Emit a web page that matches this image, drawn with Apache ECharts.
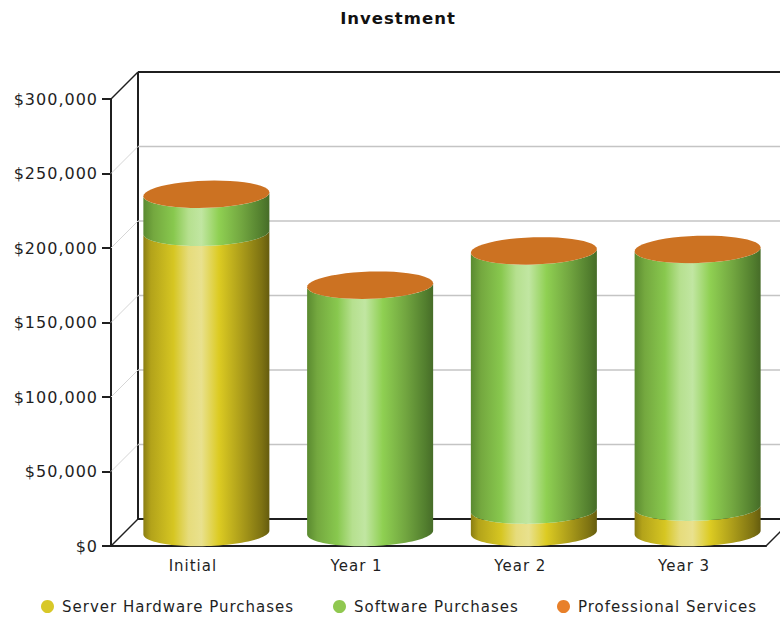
<!DOCTYPE html>
<html>
<head>
<meta charset="utf-8">
<title>Investment</title>
<style>
  html, body { margin: 0; padding: 0; background: #fff; }
  #chart { width: 780px; height: 617px; }
  #chart text { letter-spacing: 1px; }
</style>
<script src="https://cdn.jsdelivr.net/npm/echarts@6/dist/echarts.min.js"></script>
</head>
<body>
<div id="chart"></div>
<script>
const categories = ['Initial', 'Year 1', 'Year 2', 'Year 3'];
const seriesNames = ['Server Hardware Purchases', 'Software Purchases', 'Professional Services'];
const serverHardware = [201500, 0, 15000, 17000];
const software = [25500, 166000, 174000, 173000];
const professionalServices = [0, 0, 0, 0];
const yTicks = [0, 50000, 100000, 150000, 200000, 250000, 300000];

const stacks = [serverHardware, software, professionalServices];

// Shared look of the pseudo-3D box and the cylinders
const DEPTH = 27;
const BAR_RATIO = 0.77;
const RY = 13.6;
const TILT = 1.8 * Math.PI / 180;
const FONT = '"DejaVu Sans", sans-serif';
const INK = '#1f1f1f';

const sideStops = [
  [[0, '#8a7d12'], [0.06, '#b3a31a'], [0.24, '#d6c622'], [0.36, '#e6dc7c'], [0.46, '#e9e18e'],
   [0.6, '#dccb22'], [0.78, '#ab9c1a'], [0.94, '#7d7212'], [1, '#655c0e']],
  [[0, '#5a8a30'], [0.08, '#74a83f'], [0.24, '#88c84e'], [0.36, '#b6e08f'], [0.46, '#c1e6a2'],
   [0.6, '#8fd052'], [0.78, '#72a640'], [0.94, '#527e2e'], [1, '#466c28']],
  [[0, '#a85a18'], [0.4, '#ee9a48'], [1, '#8a4a14']]
];
const capColor = '#cc7222';
const legendColors = ['#d8c828', '#90c850', '#e8802a'];

// Point on a slightly tilted ellipse, angle measured in screen coordinates
function ellipsePoint(cx, cy, rx, t) {
  const c = Math.cos(t), s = Math.sin(t);
  return [
    cx + rx * c * Math.cos(TILT) + RY * s * Math.sin(TILT),
    cy - rx * c * Math.sin(TILT) + RY * s * Math.cos(TILT)
  ];
}

function frontArc(cx, cy, rx, from, to) {
  const pts = [];
  const steps = 48;
  for (let i = 0; i <= steps; i++) {
    pts.push(ellipsePoint(cx, cy, rx, from + (to - from) * i / steps));
  }
  return pts;
}

function cylinderSegment(seriesIndex) {
  return function (params, api) {
    const i = params.dataIndex;
    let base = 0;
    for (let s = 0; s < seriesIndex; s++) base += stacks[s][i];
    const top = base + stacks[seriesIndex][i];
    const rx = api.size([1, 0])[0] * BAR_RATIO / 2;
    const bottomPt = api.coord([i, base]);
    const topPt = api.coord([i, top]);
    const cx = bottomPt[0] + DEPTH / 2;
    const children = [];

    if (top > base) {
      const points = frontArc(cx, topPt[1] - DEPTH / 2, rx, 0, Math.PI)
        .concat(frontArc(cx, bottomPt[1] - DEPTH / 2, rx, Math.PI, 0));
      children.push({
        type: 'polygon',
        shape: { points: points },
        style: { fill: new echarts.graphic.LinearGradient(0, 0, 1, 0,
          sideStops[seriesIndex].map(function (d) { return { offset: d[0], color: d[1] }; })) }
      });
    }
    // The last series of the stack closes the cylinder with its cap
    if (seriesIndex === stacks.length - 1) {
      children.push({
        type: 'polygon',
        shape: { points: frontArc(cx, topPt[1] - DEPTH / 2, rx, 0, 2 * Math.PI) },
        style: { fill: capColor }
      });
    }
    return { type: 'group', children: children };
  };
}

// Floor, back wall and side-wall grid lines, one set per value tick
function wallItem(params, api) {
  const tick = yTicks[params.dataIndex];
  const p = api.coord([0, tick]);
  const sys = params.coordSys;
  const isEdge = tick === 0 || tick === yTicks[yTicks.length - 1];
  const left = sys.x;
  const y = p[1];
  const children = [
    {
      type: 'line',
      shape: { x1: left, y1: y, x2: left + DEPTH, y2: y - DEPTH },
      style: { stroke: isEdge ? INK : '#d6d6d6', lineWidth: isEdge ? 1.5 : 1 }
    },
    {
      type: 'line',
      shape: { x1: left + DEPTH, y1: y - DEPTH, x2: left + sys.width + DEPTH, y2: y - DEPTH },
      style: { stroke: isEdge ? INK : '#c4c4c4', lineWidth: isEdge ? 2 : 1.5 }
    }
  ];
  if (tick === 0) {
    children.push({
      type: 'line',
      shape: { x1: left + sys.width, y1: y, x2: left + sys.width + DEPTH, y2: y - DEPTH },
      style: { stroke: INK, lineWidth: 1.5 }
    });
    children.push({
      type: 'line',
      shape: { x1: left + DEPTH, y1: y - DEPTH, x2: left + DEPTH, y2: api.coord([0, yTicks[yTicks.length - 1]])[1] - DEPTH },
      style: { stroke: INK, lineWidth: 2 }
    });
  }
  return { type: 'group', children: children };
}

function legendFor(index, leftPos) {
  return {
    left: leftPos,
    top: 594,
    itemWidth: 13,
    itemHeight: 13,
    selectedMode: false,
    data: [{
      name: seriesNames[index],
      icon: 'circle',
      itemStyle: { color: legendColors[index] }
    }],
    textStyle: { fontFamily: FONT, fontSize: 15, color: INK, padding: [0, 0, 0, 3] }
  };
}

const chart = echarts.init(document.getElementById('chart'), null, { renderer: 'svg' });

chart.setOption({
  animation: false,
  backgroundColor: '#fff',
  title: {
    text: 'Investment',
    left: 393,
    top: 5,
    textAlign: 'center',
    textStyle: { fontFamily: FONT, fontSize: 16.5, fontWeight: 'bold', color: '#111' }
  },
  legend: [legendFor(0, 36), legendFor(1, 328), legendFor(2, 552)],
  grid: { left: 111, right: 14, top: 99, bottom: 71 },
  xAxis: {
    type: 'category',
    data: categories,
    axisLine: { lineStyle: { color: INK, width: 2 } },
    axisTick: { alignWithLabel: true, length: 8, lineStyle: { color: INK, width: 1.5 } },
    axisLabel: { fontFamily: FONT, fontSize: 15, color: INK, margin: 12 },
    splitLine: { show: false }
  },
  yAxis: {
    type: 'value',
    min: 0,
    max: 300000,
    interval: 50000,
    axisLine: { show: true, lineStyle: { color: INK, width: 2 } },
    axisTick: { show: true, length: 9, lineStyle: { color: INK, width: 2 } },
    axisLabel: {
      fontFamily: FONT, fontSize: 16, color: INK, margin: 13,
      formatter: function (v) { return '$' + v.toLocaleString('en-US'); }
    },
    splitLine: { show: false }
  },
  series: [
    {
      type: 'custom',
      name: 'walls',
      silent: true,
      clip: false,
      z: 1,
      renderItem: wallItem,
      encode: { x: 0, y: 1 },
      data: yTicks.map(function (t) { return [0, t]; })
    }
  ].concat(seriesNames.map(function (name, s) {
    return {
      type: 'custom',
      name: name,
      clip: false,
      z: 2 + s,
      renderItem: cylinderSegment(s),
      itemStyle: { color: legendColors[s] },
      encode: { x: 0, y: 1 },
      data: stacks[s].map(function (v, i) { return [i, v]; })
    };
  }))
});
</script>
</body>
</html>
